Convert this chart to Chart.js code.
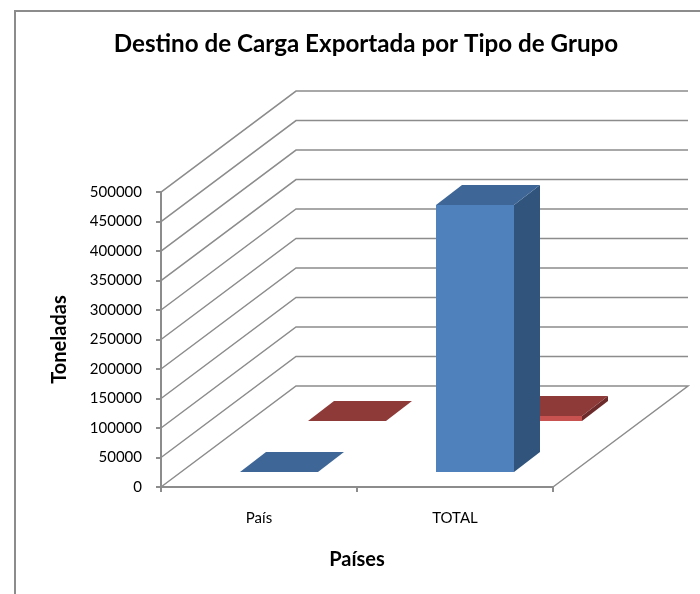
<!DOCTYPE html>
<html>
<head>
<meta charset="utf-8">
<title>Destino de Carga Exportada por Tipo de Grupo</title>
<script src="https://cdn.jsdelivr.net/npm/chart.js@4"></script>
<style>
  body { margin: 0; background: #fff; }
  #wrap { position: relative; width: 700px; height: 594px; }
</style>
</head>
<body>
<div id="wrap"><canvas id="chart" width="700" height="594"></canvas></div>
<script>
const categories = ['País', 'TOTAL'];
const serieAzul = [200, 452500];
const serieRoja = [200, 8500];
const tickStep = 50000;
const maxValue = 500000;

const LINE = '#8c8c8c';
const TEXT = '#000';
const FONT = 'Lato, "Open Sans", sans-serif';

// profundidad de la caja 3D (px) y de cada barra
const WALL = { dx: 135, dy: -101 };
const BAR_DEPTH = { dx: 26, dy: -20 };
// desplazamiento de cada fila de barras, en orden del dataset
const ROWS = [{ dx: 20, dy: -15 }, { dx: 88, dy: -66 }];
const FACES = [
    { front: '#4F81BD', top: '#3E6797', side: '#31547C' },
    { front: '#C8524F', top: '#8E3A38', side: '#6C2B2A' }
];

function poly(ctx, pts, fill) {
    ctx.beginPath();
    pts.forEach((p, i) => i ? ctx.lineTo(p[0], p[1]) : ctx.moveTo(p[0], p[1]));
    ctx.closePath();
    ctx.fillStyle = fill;
    ctx.fill();
}

const walls3d = {
    id: 'walls3d',
    beforeDatasetsDraw(chart) {
        const { ctx, chartArea: a, scales: { y } } = chart;
        ctx.save();
        ctx.strokeStyle = LINE;
        ctx.lineWidth = 1.5;
        y.ticks.forEach(t => {
            const py = y.getPixelForValue(t.value);
            ctx.beginPath();
            ctx.moveTo(a.left, py);
            ctx.lineTo(a.left + WALL.dx, py + WALL.dy);
            ctx.lineTo(a.right + WALL.dx, py + WALL.dy);
            if (t.value === 0) ctx.lineTo(a.right, py);
            ctx.stroke();
        });
        ctx.restore();
    }
};

// dibuja las barras como prismas a partir de los elementos del grafico
const bars3d = {
    id: 'bars3d',
    beforeDatasetsDraw(chart) {
        const ctx = chart.ctx;
        const y = chart.scales.y;
        ctx.save();
        [1, 0].forEach(ds => {
            const row = ROWS[ds], c = FACES[ds];
            const values = chart.data.datasets[ds].data;
            chart.getDatasetMeta(ds).data.forEach((el, i) => {
                // redondeado para que no se vean costuras entre caras
                const l = Math.round(el.x - el.width / 2 + row.dx);
                const r = Math.round(el.x + el.width / 2 + row.dx);
                const t = Math.round(y.getPixelForValue(values[i]) + row.dy);
                const b = Math.round(y.getPixelForValue(0) + row.dy);
                const dx = BAR_DEPTH.dx, dy = BAR_DEPTH.dy;
                poly(ctx, [[r, t], [r + dx, t + dy], [r + dx, b + dy], [r, b]], c.side);
                poly(ctx, [[l, t], [r, t], [r + dx, t + dy], [l + dx, t + dy]], c.top);
                poly(ctx, [[l, t], [r, t], [r, b], [l, b]], c.front);
            });
        });
        ctx.restore();
        return false;
    }
};

const frame = {
    id: 'frame',
    afterLayout(chart) {
        // el titulo va centrado sobre el marco, no sobre el canvas
        chart.titleBlock.left = 32;
        chart.titleBlock.right = 700;
    },
    beforeDraw(chart) {
        const ctx = chart.ctx;
        ctx.save();
        ctx.strokeStyle = '#8c8c8c';
        ctx.lineWidth = 2;
        ctx.beginPath();
        ctx.moveTo(15, 594);
        ctx.lineTo(15, 11);
        ctx.lineTo(700, 11);
        ctx.stroke();
        ctx.restore();
    }
};

new Chart(document.getElementById('chart'), {
    type: 'bar',
    data: {
        labels: categories,
        datasets: [
            { label: 'Serie 1', data: serieAzul, backgroundColor: FACES[0].front },
            { label: 'Serie 2', data: serieRoja, backgroundColor: FACES[1].front }
        ]
    },
    options: {
        responsive: false,
        animation: false,
        events: [],
        grouped: false,
        barPercentage: 0.4,
        categoryPercentage: 1,
        layout: { padding: { left: 0, right: 147, top: 0, bottom: 0 } },
        plugins: {
            legend: { display: false },
            tooltip: { enabled: false },
            title: {
                display: true,
                text: 'Destino de Carga Exportada por Tipo de Grupo',
                color: TEXT,
                font: { family: FONT, size: 24.2, weight: 'bold' },
                padding: { top: 30, bottom: 133 }
            }
        },
        scales: {
            x: {
                offset: true,
                afterFit: s => { s.height = 107; },
                border: { color: LINE, width: 2 },
                grid: { drawOnChartArea: false, offset: true, tickLength: 5, color: LINE, lineWidth: 2 },
                ticks: { color: TEXT, font: { family: FONT, size: 15 }, padding: 17, maxRotation: 0 },
                title: {
                    display: true,
                    text: 'Países',
                    color: TEXT,
                    font: { family: FONT, size: 20, weight: 'bold' },
                    padding: { top: 0, bottom: 22 }
                }
            },
            y: {
                min: 0,
                max: maxValue,
                afterFit: s => { s.width = 161; },
                border: { color: LINE, width: 2 },
                grid: { drawOnChartArea: false, tickLength: 5, color: LINE, lineWidth: 2 },
                ticks: {
                    stepSize: tickStep,
                    color: TEXT,
                    font: { family: FONT, size: 15 },
                    padding: 14,
                    format: { useGrouping: false }
                },
                title: {
                    display: true,
                    text: 'Toneladas',
                    color: TEXT,
                    font: { family: FONT, size: 20, weight: 'bold' },
                    padding: { top: 48, bottom: 0 }
                }
            }
        }
    },
    plugins: [frame, walls3d, bars3d]
});
</script>
</body>
</html>
